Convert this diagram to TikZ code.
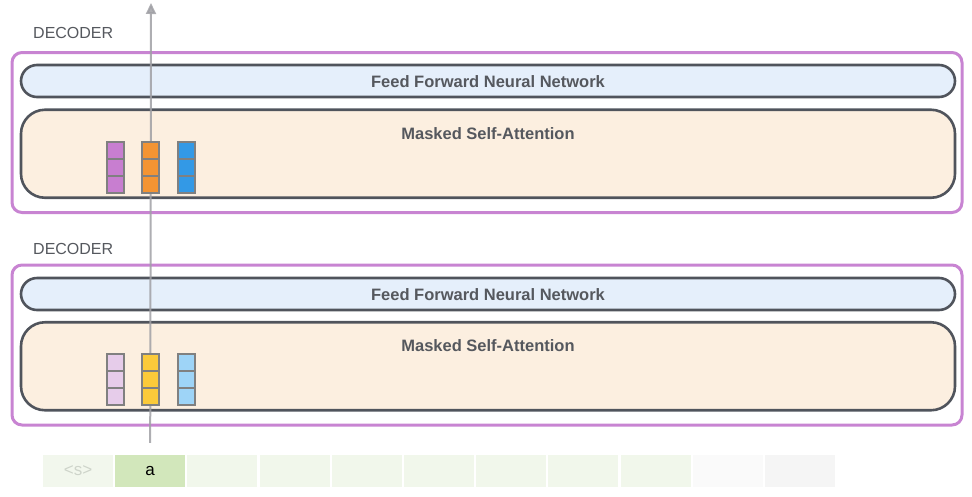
\documentclass[tikz,border=0pt]{standalone}
\usepackage{fontspec}
\setmainfont{Liberation Sans}
\usepackage{xcolor}
\usepackage{tikz}
\usetikzlibrary{calc,shapes,positioning,arrows.meta}
\definecolor{decoderColor}{RGB}{200, 132, 210}
\definecolor{borderColor}{RGB}{80, 84, 92}
\definecolor{ffnnColor}{RGB}{229, 239, 251}
\definecolor{attnColor}{RGB}{252, 239, 224}
\definecolor{labelColor}{RGB}{85, 88, 94}
\definecolor{cellBorder}{RGB}{128, 128, 128}
\definecolor{flowColor}{RGB}{160, 160, 165}
\definecolor{purpleHi}{RGB}{200, 126, 208}
\definecolor{orangeHi}{RGB}{243, 148, 51}
\definecolor{blueHi}{RGB}{51, 153, 230}
\definecolor{purpleLo}{RGB}{230, 204, 234}
\definecolor{orangeLo}{RGB}{251, 202, 58}
\definecolor{blueLo}{RGB}{158, 212, 247}
\definecolor{tokStart}{RGB}{242, 247, 237}
\definecolor{tokActive}{RGB}{210, 231, 187}
\definecolor{tokNext}{RGB}{241, 247, 235}
\definecolor{tokFadeA}{RGB}{250, 250, 250}
\definecolor{tokFadeB}{RGB}{245, 245, 245}

\tikzset{
  declabel/.style={anchor=west, inner sep=0pt, text=labelColor, font=\fontsize{16}{19}\selectfont},
  decbox/.style={draw=decoderColor, line width=3pt, rounded corners=10pt, minimum width=950pt, minimum height=160pt, inner sep=0pt},
  ffnbox/.style={draw=borderColor, fill=ffnnColor, line width=2.6pt, rounded corners=16pt, minimum width=934pt, minimum height=32pt, inner sep=0pt},
  attbox/.style={draw=borderColor, fill=attnColor, line width=2.6pt, rounded corners=24pt, minimum width=934pt, minimum height=88pt, inner sep=0pt},
  boxtext/.style={inner sep=0pt, text=labelColor, font=\fontsize{16.5}{19}\selectfont\bfseries},
  vcell/.style={draw=cellBorder, line width=1.6pt, minimum size=17pt, inner sep=0pt},
  tokcell/.style={minimum width=70pt, minimum height=32pt, inner sep=0pt, font=\fontsize{17}{20}\selectfont}
}

\begin{document}
\begin{tikzpicture}[x=1pt, y=-1pt]
  \useasboundingbox (0,0) rectangle (972,496);

  % Upper decoder
  \node[declabel] (declabelA) at (33,33) {DECODER};
  \node[decbox] (decA) at (487,132.5) {};
  \node[ffnbox] (ffnA) at (488,81) {};
  \node[boxtext] (ffnAtext) at (488,82) {Feed Forward Neural Network};
  \node[attbox] (attA) at (488,153.75) {};
  \node[boxtext] (attAtext) at ([yshift=-25pt]attA.north) {Masked Self-Attention};

  % Lower decoder
  \node[declabel] (declabelB) at (33,249) {DECODER};
  \node[decbox] (decB) at (487,345) {};
  \node[ffnbox] (ffnB) at (488,294) {};
  \node[boxtext] (ffnBtext) at (488,295) {Feed Forward Neural Network};
  \node[attbox] (attB) at (488,366.25) {};
  \node[boxtext] (attBtext) at ([yshift=-25pt]attB.north) {Masked Self-Attention};

  % Input tokens
  \foreach \i/\col/\txt in {0/tokStart/{\color[RGB]{206,212,202}<s>}, 1/tokActive/a, 2/tokNext/, 3/tokNext/, 4/tokNext/, 5/tokNext/, 6/tokNext/, 7/tokNext/, 8/tokNext/, 9/tokFadeA/, 10/tokFadeB/}
    \node[tokcell, fill=\col] (tok\i) at (78+72.2*\i,471) {\txt};

  % Flow of the current token
  \coordinate (flowtop) at (151,3);
  \draw[flowColor, opacity=0.85, line width=2pt, -{Triangle[length=11pt, width=10pt]}]
    ([yshift=12pt]tok1.north) -- (flowtop);

  % Vectors inside the attention layers
  \foreach \i/\x/\col in {1/115.5/purpleHi, 2/150.5/orangeHi, 3/186.5/blueHi}
    \foreach \j in {0,1,2}
      \node[vcell, fill=\col] (vecA\i\j) at (\x,150.5+17*\j) {};
  \foreach \i/\x/\col in {1/115.5/purpleLo, 2/150.5/orangeLo, 3/186.5/blueLo}
    \foreach \j in {0,1,2}
      \node[vcell, fill=\col] (vecB\i\j) at (\x,362.5+17*\j) {};
\end{tikzpicture}
\end{document}
